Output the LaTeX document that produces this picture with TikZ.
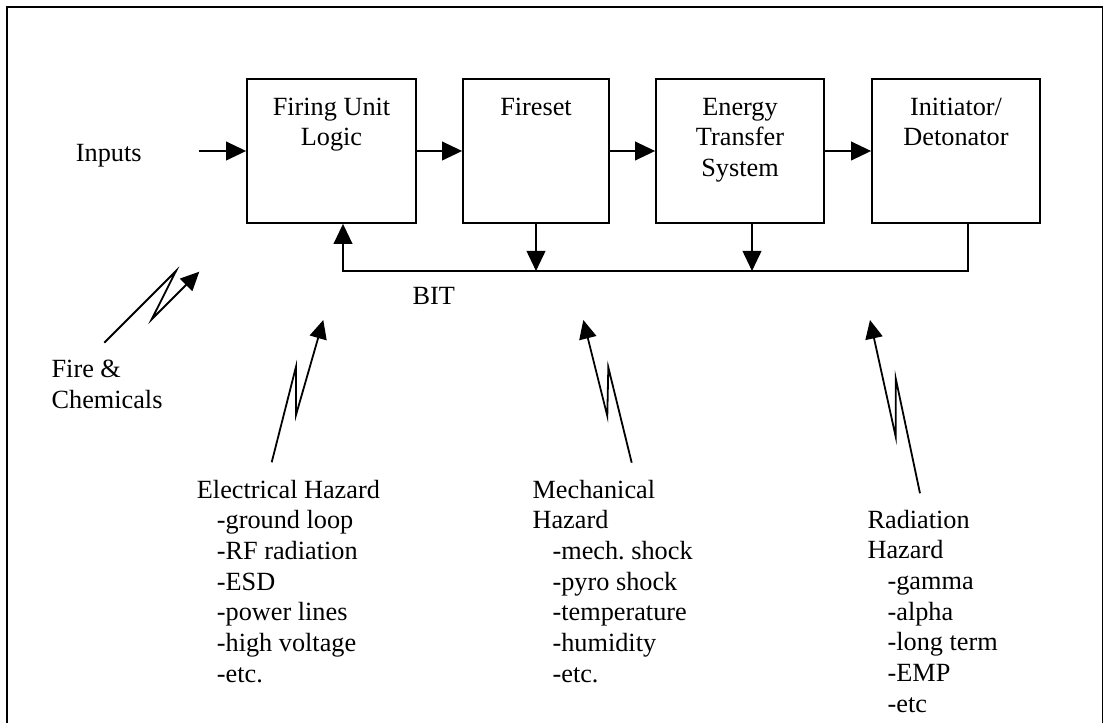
\documentclass[tikz,border=0pt]{standalone}
\usepackage{fontspec}
\setmainfont{Liberation Serif}
\usetikzlibrary{arrows.meta}
\frenchspacing
\begin{document}
\begin{tikzpicture}[x=0.75pt,y=-0.75pt, line width=1.35pt,
  blk/.style={draw, rectangle, inner sep=0pt, minimum height=108pt},
  lbl/.style={inner sep=0pt, align=center, anchor=north},
  lst/.style={inner sep=0pt, align=left, anchor=north west},
  arr/.style={-{Triangle[length=15pt,width=14pt]}},
  bolt/.style={-{Triangle[length=14pt,width=13pt]}, line join=miter},
  font=\fontsize{19.7}{23}\selectfont]
\useasboundingbox (0,0) rectangle (1104,723);
% outer frame
\draw (7,723) -- (7,7) -- (1102.5,7) -- (1102.5,723);

% blocks
\node[blk, minimum width=126.75pt] (b1) at (331.5,151) {};
\node[blk, minimum width=109.5pt]  (b2) at (536,151) {};
\node[blk, minimum width=126pt]    (b3) at (740,151) {};
\node[blk, minimum width=126pt]    (b4) at (956,151) {};

\node[lbl] (t1) at (331.5,97) {Firing Unit\\Logic};
\node[lbl] (t2) at (536,97) {Fireset};
\node[lbl] (t3) at (740,97) {Energy\\Transfer\\System};
\node[lbl] (t4) at (956,97) {Initiator/\\Detonator};

% inputs
\node[inner sep=0pt, anchor=base west] (inp) at (75,162) {Inputs};
\coordinate (inS) at (199,151);
\draw[arr] (inS) -- (b1.west);
\draw[arr] (b1.east) -- (b2.west);
\draw[arr] (b2.east) -- (b3.west);
\draw[arr] (b3.east) -- (b4.west);

% BIT bus
\coordinate (busL) at (343,271);
\coordinate (busR) at (968,271);
\draw[arr] ([xshift=9pt]b4.south) -- (busR) -- (busL) -- (busL |- b1.south);
\draw[arr] (b2.south) -- (b2.south |- busL);
\draw[arr] ([xshift=9pt]b3.south) -- ([xshift=9pt]b3.south |- busL);
\node[inner sep=0pt, anchor=base west] (bit) at (411.7,305) {BIT};

% hazard labels
\node[lst] (fire) at (50.7,359) {Fire \&\\Chemicals};
\node[lst] (elec) at (196,479) {Electrical Hazard\\
  \hspace*{15pt}-ground loop\\
  \hspace*{15pt}-RF radiation\\
  \hspace*{15pt}-ESD\\
  \hspace*{15pt}-power lines\\
  \hspace*{15pt}-high voltage\\
  \hspace*{15pt}-etc.};
\node[lst] (mech) at (531.7,479) {Mechanical\\Hazard\\
  \hspace*{15pt}-mech. shock\\
  \hspace*{15pt}-pyro shock\\
  \hspace*{15pt}-temperature\\
  \hspace*{15pt}-humidity\\
  \hspace*{15pt}-etc.};
\node[lst] (rad) at (866.7,509) {Radiation\\Hazard\\
  \hspace*{15pt}-gamma\\
  \hspace*{15pt}-alpha\\
  \hspace*{15pt}-long term\\
  \hspace*{15pt}-EMP\\
  \hspace*{15pt}-etc};

% lightning-bolt arrows
\coordinate (fS) at (104.3,342.7);
\coordinate (fT) at (199.3,271.7);
\draw[bolt] (fS) -- (176,271) -- (151.7,319.3) -- (fT);

\coordinate (eS) at (271.7,462.3);
\coordinate (eT) at (323.3,320);
\draw[bolt] (eS) -- (296,366.7) -- (296,415) -- (eT);

\coordinate (mS) at (631.7,462.7);
\coordinate (mT) at (583.3,320);
\draw[bolt] (mS) -- (608.3,367.3) -- (607.3,416) -- (mT);

\coordinate (rS) at (920,493.3);
\coordinate (rT) at (870,320);
\draw[bolt] (rS) -- (895.7,378.3) -- (895.7,436.7) -- (rT);
\end{tikzpicture}
\end{document}
